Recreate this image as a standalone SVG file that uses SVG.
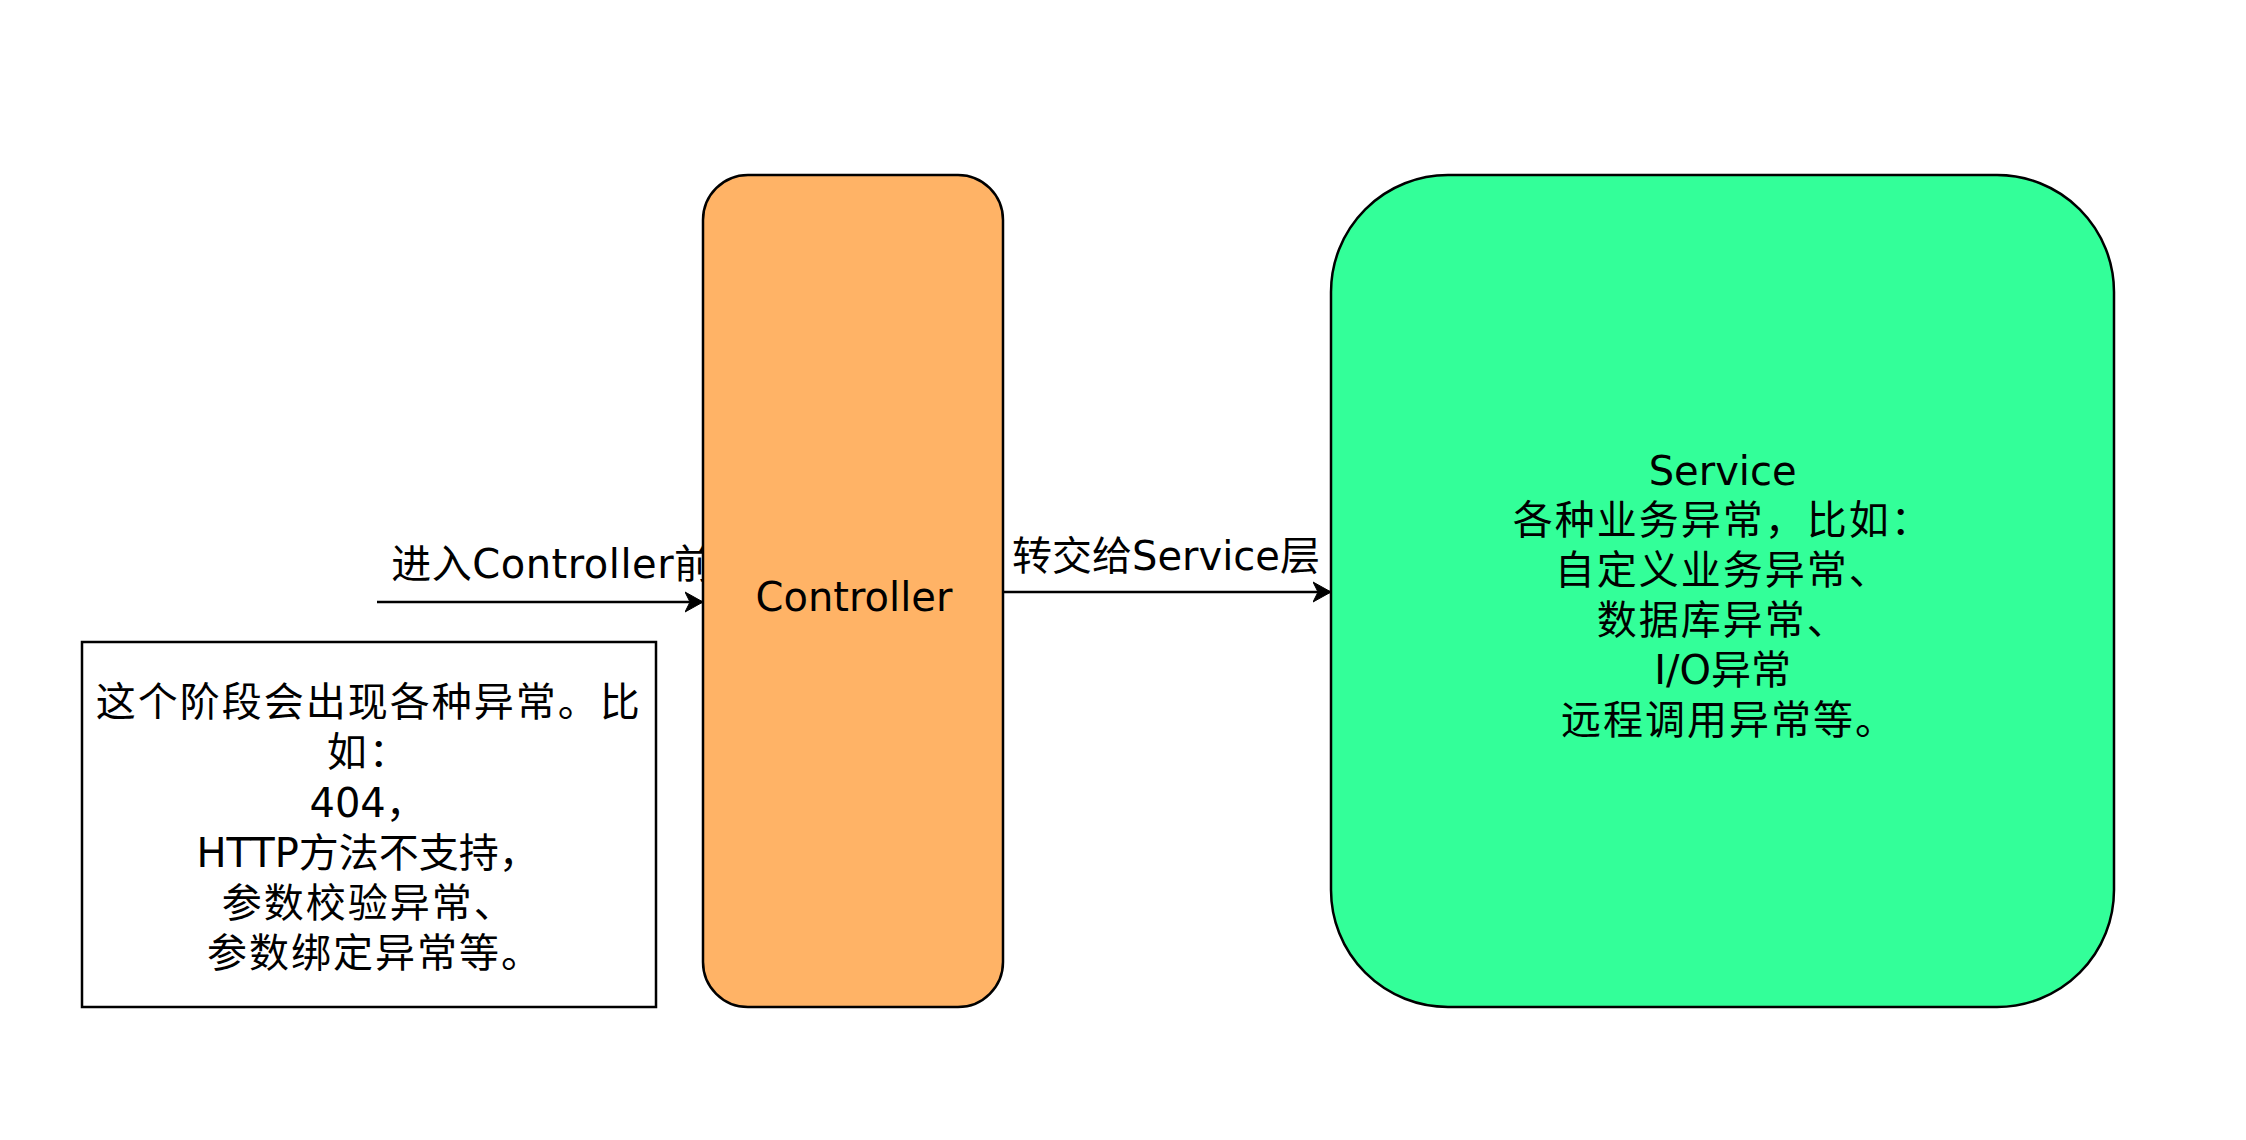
<svg xmlns="http://www.w3.org/2000/svg" width="2246" height="1140" viewBox="0 0 2246 1140">
<style>
.t{font-family:"DejaVu Sans","Noto Sans CJK SC",sans-serif;font-size:40px;fill:#000;text-anchor:middle}
.cj{letter-spacing:2px}
.box{stroke:#000;stroke-width:2.5}
.edge{stroke:#000;stroke-width:2.5;fill:none}
</style>
<defs>
<marker id="arr" markerUnits="userSpaceOnUse" markerWidth="20" markerHeight="22" refX="18" refY="11" orient="auto" viewBox="0 0 20 22">
<path d="M0,1 L18,11 L0,21 L5,11 Z" fill="#000" stroke="#000" stroke-width="1"/>
</marker>
</defs>
<rect width="2246" height="1140" fill="#fff"/>
<g id="connectors">
<path class="edge" d="M377,602 L703,602" marker-end="url(#arr)"/>
<text class="t" x="553" y="578" style="letter-spacing:0.5px">进入Controller前</text>
<path class="edge" d="M1003,592 L1331,592" marker-end="url(#arr)"/>
<text class="t" x="1166" y="570">转交给Service层</text>
</g>
<g id="controller">
<rect class="box" x="703" y="175" width="300" height="832" rx="45" ry="45" fill="#FFB366"/>
<text class="t" x="854" y="611">Controller</text>
</g>
<g id="service">
<rect class="box" x="1331" y="175" width="783" height="832" rx="117" ry="117" fill="#33FF99"/>
<text class="t" x="1729">
<tspan x="1729" y="485">Service</tspan>
<tspan class="cj" x="1729" y="534">各种业务异常，比如：</tspan>
<tspan class="cj" x="1729" y="584">自定义业务异常、</tspan>
<tspan class="cj" x="1729" y="634">数据库异常、</tspan>
<tspan x="1729" y="684">I/O异常</tspan>
<tspan class="cj" x="1729" y="734">远程调用异常等。</tspan>
</text>
</g>
<g id="note">
<rect class="box" x="82" y="642" width="574" height="365" fill="#fff"/>
<text class="t" x="375">
<tspan class="cj" x="375" y="716">这个阶段会出现各种异常。比</tspan>
<tspan class="cj" x="375" y="766">如：</tspan>
<tspan x="374" y="817">404，</tspan>
<tspan x="374" y="867">HTTP方法不支持，</tspan>
<tspan class="cj" x="375" y="917">参数校验异常、</tspan>
<tspan class="cj" x="375" y="967">参数绑定异常等。</tspan>
</text>
</g>
</svg>
